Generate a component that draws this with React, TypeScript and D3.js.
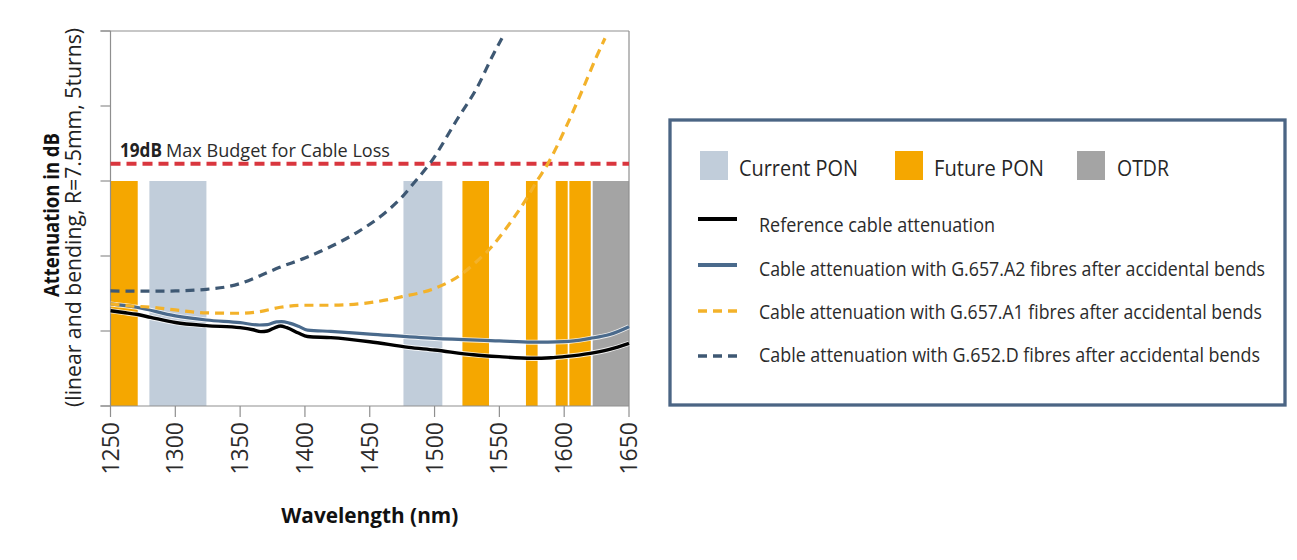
import * as d3 from "d3";

// wavelength axis (nm) and attenuation axis (dB)
const xTicks = [1250, 1300, 1350, 1400, 1450, 1500, 1550, 1600, 1650];
const yTicks = [0, 5.88, 11.76, 17.64, 23.52, 29.4];
const budgetDb = 19;
const bandTopDb = 17.64;

// wavelength windows [from, to] in nm
const currentPonBands: [number, number][] = [
  [1280, 1324],
  [1476, 1506],
];
const futurePonBands: [number, number][] = [
  [1250, 1271],
  [1521.5, 1542],
  [1570.5, 1579.5],
  [1593.5, 1602.7],
  [1604, 1620.5],
];
const otdrBands: [number, number][] = [[1622, 1650]];

// [wavelength nm, attenuation dB]
const referenceCable: [number, number][] = [
  [1250, 7.47], [1260, 7.33], [1270, 7.19], [1281, 6.95], [1300, 6.55],
  [1324, 6.3], [1350, 6.14], [1360, 5.98], [1366, 5.83], [1371, 5.88],
  [1377, 6.15], [1381, 6.27], [1386, 6.14], [1395, 5.72], [1402, 5.45],
  [1420, 5.36], [1450, 5.04], [1480, 4.6], [1500, 4.39], [1530, 4.02],
  [1550, 3.87], [1575, 3.74], [1590, 3.78], [1600, 3.87], [1620, 4.13],
  [1635, 4.44], [1650, 4.91],
];
const g657a2: [number, number][] = [
  [1250, 8.0], [1270, 7.74], [1300, 7.06], [1324, 6.74], [1350, 6.53],
  [1365, 6.35], [1371, 6.38], [1378, 6.6], [1382, 6.62], [1388, 6.5],
  [1395, 6.25], [1402, 5.95], [1420, 5.85], [1450, 5.64], [1500, 5.3],
  [1550, 5.1], [1575, 5.0], [1600, 5.04], [1620, 5.3], [1635, 5.6],
  [1650, 6.22],
];
const g657a1: [number, number][] = [
  [1250, 8.0], [1265, 7.85], [1281, 7.75], [1300, 7.53], [1324, 7.3],
  [1350, 7.27], [1365, 7.4], [1381, 7.74], [1400, 7.9], [1420, 7.9],
  [1450, 8.1], [1475, 8.57], [1500, 9.22], [1520, 10.27], [1530, 11.1],
  [1545, 12.6], [1560, 14.6], [1570, 16.1], [1579, 17.64], [1587, 18.92],
  [1602, 22.0], [1615, 25.0], [1625, 27.4], [1631.5, 28.83],
];
const g652d: [number, number][] = [
  [1250, 9.02], [1280, 9.0], [1300, 9.02], [1324, 9.15], [1340, 9.35],
  [1350, 9.6], [1365, 10.2], [1380, 10.85], [1400, 11.6], [1420, 12.5],
  [1440, 13.6], [1460, 15.0], [1475, 16.4], [1485, 17.6], [1497, 19.1],
  [1517, 22.4], [1533, 25.0], [1545, 27.5], [1552, 28.83],
];

const bandLabels = ["Current PON", "Future PON", "OTDR"];
const lineLabels = [
  "Reference cable attenuation",
  "Cable attenuation with G.657.A2 fibres after accidental bends",
  "Cable attenuation with G.657.A1 fibres after accidental bends",
  "Cable attenuation with G.652.D fibres after accidental bends",
];

const ORANGE = "#f5a700";
const LIGHTBLUE = "#c1cdda";
const GREY = "#a4a4a4";
const AXIS = "#8f8f8f";
const FONT = "'Open Sans', 'Noto Sans', sans-serif";

export default function App() {
  const width = 1297;
  const height = 560;
  const left = 110.5;
  const right = 629;
  const top = 31;
  const bottom = 406;

  const x = d3.scaleLinear().domain([1250, 1650]).range([left, right]);
  const y = d3.scaleLinear().domain([0, 29.4]).range([bottom, top]);

  const line = d3
    .line<[number, number]>()
    .x((d) => x(d[0]))
    .y((d) => y(d[1]))
    .curve(d3.curveMonotoneX);

  const bands = (list: [number, number][], fill: string, key: string) =>
    list.map((b, i) => (
      <rect
        key={key + i}
        x={x(b[0])}
        y={y(bandTopDb)}
        width={x(b[1]) - x(b[0])}
        height={y(0) - y(bandTopDb)}
        fill={fill}
      />
    ));

  const bandStyle = [
    { fill: LIGHTBLUE, sq: 700, tx: 739, tl: 119 },
    { fill: ORANGE, sq: 895, tx: 934, tl: 110 },
    { fill: GREY, sq: 1077, tx: 1117, tl: 52 },
  ];
  const lineStyle = [
    { stroke: "#000000", w: 4, dash: "", ly: 219, ty: 232, tl: 236 },
    { stroke: "#4a6a8c", w: 4, dash: "", ly: 265, ty: 276, tl: 506 },
    { stroke: "#f3b22a", w: 3.5, dash: "9,6", ly: 311, ty: 319, tl: 503 },
    { stroke: "#3e5873", w: 3.5, dash: "9,6", ly: 356, ty: 362, tl: 501 },
  ];

  return (
    <svg
      width={width}
      height={height}
      style={{ position: "absolute", left: 0, top: 0, background: "#fff" }}
      fontFamily={FONT}
    >
      {/* bands */}
      {bands(currentPonBands, LIGHTBLUE, "c")}
      {bands(futurePonBands, ORANGE, "f")}
      {bands(otdrBands, GREY, "o")}

      {/* frame */}
      <g stroke={AXIS} strokeWidth={1.2} fill="none">
        <line x1={left - 10} x2={right} y1={top} y2={top} />
        <line x1={left - 10} x2={right} y1={bottom} y2={bottom} />
        <line x1={left} x2={left} y1={top} y2={bottom} />
        <line x1={right} x2={right} y1={top} y2={bottom} />
        {yTicks.map((t) => (
          <line key={"yt" + t} x1={left - 10} x2={left} y1={y(t)} y2={y(t)} />
        ))}
        {xTicks.map((t) => (
          <line key={"xt" + t} x1={x(t)} x2={x(t)} y1={bottom} y2={bottom + 11} />
        ))}
      </g>

      {/* x tick labels */}
      {xTicks.map((t) => (
        <text
          key={"xl" + t}
          transform={`translate(${x(t) + 8},${bottom + 16}) rotate(-90)`}
          textAnchor="end"
          fontSize={23}
          fill="#2b2b2b"
        >
          {t}
        </text>
      ))}

      {/* budget line */}
      <line
        x1={left}
        x2={right}
        y1={y(budgetDb)}
        y2={y(budgetDb)}
        stroke="#d9363e"
        strokeWidth={4}
        strokeDasharray="10,6"
      />
      <text x={120} y={157} fontSize={19} fontWeight="bold" fill="#222" textLength={42} lengthAdjust="spacingAndGlyphs">
        19dB
      </text>
      <text x={166} y={157} fontSize={19} fill="#2b2b2b" textLength={224} lengthAdjust="spacingAndGlyphs">
        Max Budget for Cable Loss
      </text>

      {/* curves */}
      <path d={line(referenceCable) || ""} fill="none" stroke="#fff" strokeOpacity={0.8} strokeWidth={5.2} />
      <path d={line(referenceCable) || ""} fill="none" stroke="#000" strokeWidth={3.4} />
      <path d={line(g657a2) || ""} fill="none" stroke="#fff" strokeOpacity={0.8} strokeWidth={5} />
      <path d={line(g657a2) || ""} fill="none" stroke="#4a6a8c" strokeWidth={3.2} />
      <path d={line(g657a1) || ""} fill="none" stroke="#f3b22a" strokeWidth={3.2} strokeDasharray="9,6" />
      <path d={line(g652d) || ""} fill="none" stroke="#3e5873" strokeWidth={3.2} strokeDasharray="9,6" />

      {/* axis titles */}
      <text
        transform="translate(58.5,215) rotate(-90)"
        textAnchor="middle"
        fontSize={22}
        fontWeight="bold"
        fill="#111"
        textLength={164}
        lengthAdjust="spacingAndGlyphs"
      >
        Attenuation in dB
      </text>
      <text
        transform="translate(80.5,217.5) rotate(-90)"
        textAnchor="middle"
        fontSize={21}
        fill="#222"
        textLength={379}
        lengthAdjust="spacingAndGlyphs"
      >
        (linear and bending, R=7.5mm, 5turns)
      </text>
      <text
        x={(left + right) / 2}
        y={523}
        textAnchor="middle"
        fontSize={21}
        fontWeight="bold"
        fill="#111"
        textLength={177}
        lengthAdjust="spacingAndGlyphs"
      >
        Wavelength (nm)
      </text>

      {/* legend */}
      <rect x={670} y={120} width={615} height={285} fill="#fff" stroke="#4b6584" strokeWidth={3.3} />
      {bandLabels.map((lab, i) => (
        <g key={lab}>
          <rect x={bandStyle[i].sq} y={151} width={28} height={29} fill={bandStyle[i].fill} />
          <text
            x={bandStyle[i].tx}
            y={176}
            fontSize={21}
            fill="#262626"
            textLength={bandStyle[i].tl}
            lengthAdjust="spacingAndGlyphs"
          >
            {lab}
          </text>
        </g>
      ))}
      {lineLabels.map((lab, i) => {
        const s = lineStyle[i];
        return (
          <g key={lab}>
            <line
              x1={698}
              x2={737}
              y1={s.ly}
              y2={s.ly}
              stroke={s.stroke}
              strokeWidth={s.w}
              strokeDasharray={s.dash || undefined}
            />
            <text
              x={759}
              y={s.ty}
              fontSize={20}
              fill="#2b2b2b"
              textLength={s.tl}
              lengthAdjust="spacingAndGlyphs"
            >
              {lab}
            </text>
          </g>
        );
      })}
    </svg>
  );
}
